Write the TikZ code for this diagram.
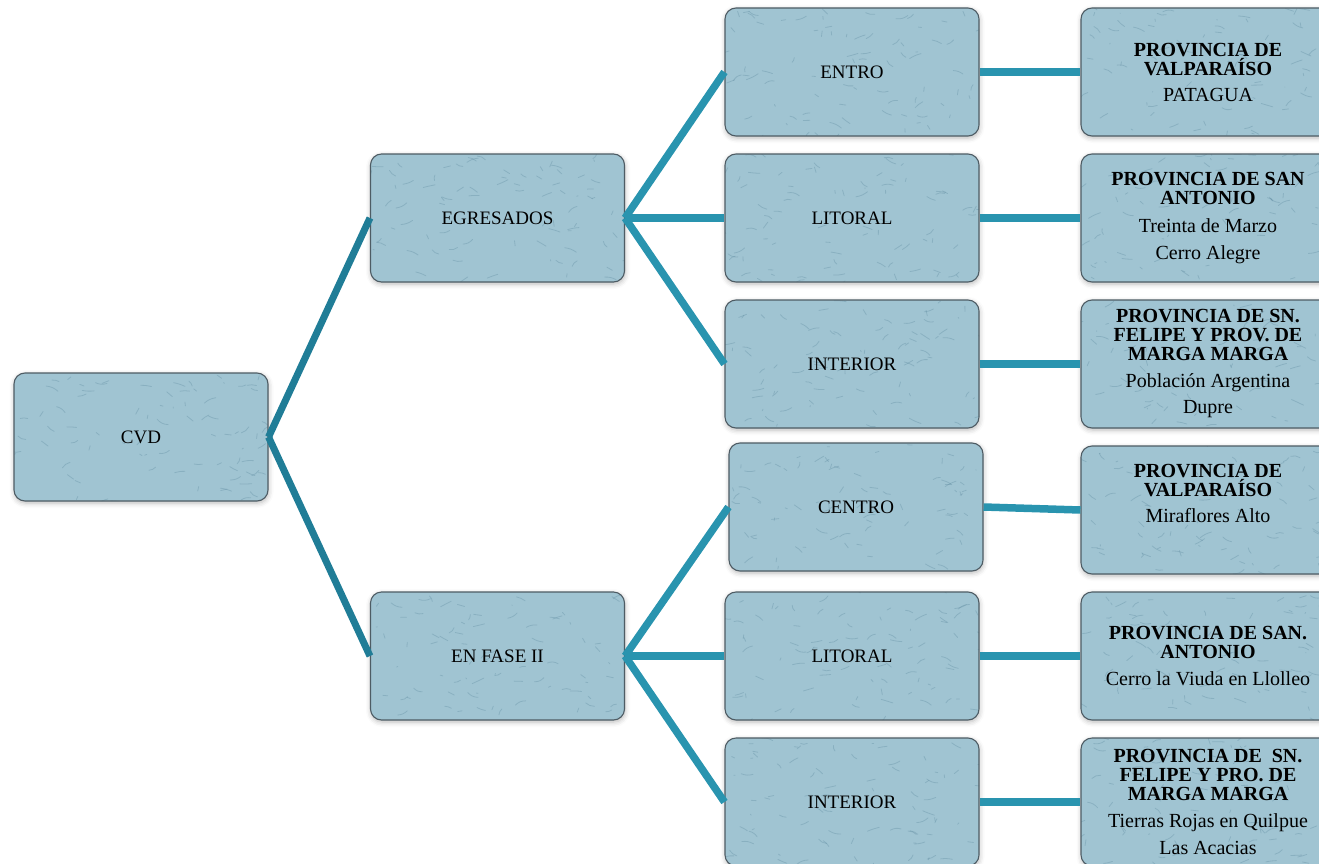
\documentclass[tikz,border=0pt]{standalone}
\usepackage{fontspec}
\setmainfont{Liberation Serif}
\usetikzlibrary{shadows.blur}

\definecolor{boxfill}{RGB}{160,196,210}
\definecolor{boxline}{RGB}{78,92,100}
\definecolor{grain}{RGB}{92,136,158}
\definecolor{linkdark}{RGB}{32,125,151}
\definecolor{linklight}{RGB}{41,148,175}

\tikzset{
  card/.style={
    rectangle, rounded corners=11pt, draw=boxline, line width=1.1pt,
    fill=boxfill, minimum width=254pt, minimum height=128pt,
    inner sep=0pt, align=center, text=black,
    font=\fontsize{19}{19}\selectfont,
    blur shadow={shadow xshift=0.5pt, shadow yshift=-2pt,
                 shadow blur radius=5pt, shadow opacity=28},
    path picture={
      \foreach \k in {1,...,80}{
        \pgfmathsetmacro{\px}{rnd*254}
        \pgfmathsetmacro{\py}{rnd*128}
        \pgfmathsetmacro{\dx}{rnd*24-12}
        \pgfmathsetmacro{\dy}{rnd*12-6}
        \pgfmathsetmacro{\bend}{rnd*50-25}
        \draw[grain, opacity=0.33, line width=0.8pt, line cap=round]
          ([shift={(\px pt,\py pt)}]path picture bounding box.south west)
          to[bend left=\bend] ++(\dx pt,\dy pt);
      }
    }
  },
  placecard/.style={card, font=\fontsize{20}{19}\selectfont},
  rootlink/.style={draw=linkdark, line width=7pt},
  leaflink/.style={draw=linklight, line width=7.5pt}
}

\begin{document}
\begin{tikzpicture}[x=1pt, y=-1pt]
\pgfmathsetseed{4711}
\useasboundingbox (0,0) rectangle (1319,864);
\begin{scope}
\clip (0,0) rectangle (1319,864);

% first and second levels
\node[card] (cvd)  at (141,437)   {CVD};
\node[card] (egr)  at (497.5,218) {EGRESADOS};
\node[card] (fase) at (497.5,656) {EN FASE II};

% third level
\node[card] (entro)  at (852,72)  {ENTRO};
\node[card] (lit1)   at (852,218) {LITORAL};
\node[card] (int1)   at (852,364) {INTERIOR};
\node[card] (centro) at (856,507) {CENTRO};
\node[card] (lit2)   at (852,656) {LITORAL};
\node[card] (int2)   at (852,802) {INTERIOR};

% provinces and places
\node[placecard] (r1) at (1208,72)
  {\textbf{PROVINCIA DE}\\\textbf{VALPARAÍSO}\\[7pt]PATAGUA};
\node[placecard] (r2) at (1208,218)
  {\textbf{PROVINCIA DE SAN}\\\textbf{ANTONIO}\\[9pt]Treinta de Marzo\\[8pt]Cerro Alegre};
\node[placecard] (r3) at (1208,364)
  {\textbf{PROVINCIA DE SN.}\\\textbf{FELIPE Y PROV. DE}\\\textbf{MARGA MARGA}\\[8pt]Población Argentina\\[7pt]Dupre};
\node[placecard] (r4) at (1208,510)
  {\textbf{PROVINCIA DE}\\\textbf{VALPARAÍSO}\\[7pt]Miraflores Alto\\[8pt]\strut};
\node[placecard] (r5) at (1208,656)
  {\textbf{PROVINCIA DE SAN.}\\\textbf{ANTONIO}\\[8pt]Cerro la Viuda en Llolleo};
\node[placecard] (r6) at (1208,802)
  {\textbf{PROVINCIA DE\ \ SN.}\\\textbf{FELIPE Y PRO. DE}\\\textbf{MARGA MARGA}\\[8pt]Tierras Rojas en Quilpue\\[8pt]Las Acacias};

% connectors
\draw[rootlink] (cvd.east) -- (egr.west);
\draw[rootlink] (cvd.east) -- (fase.west);

\draw[leaflink] (egr.east) -- (entro.west);
\draw[leaflink] (egr.east) -- (lit1.west);
\draw[leaflink] (egr.east) -- (int1.west);
\draw[leaflink] (fase.east) -- (centro.west);
\draw[leaflink] (fase.east) -- (lit2.west);
\draw[leaflink] (fase.east) -- (int2.west);

\draw[leaflink] (entro.east)  -- (r1.west);
\draw[leaflink] (lit1.east)   -- (r2.west);
\draw[leaflink] (int1.east)   -- (r3.west);
\draw[leaflink] (centro.east) -- (r4.west);
\draw[leaflink] (lit2.east)   -- (r5.west);
\draw[leaflink] (int2.east)   -- (r6.west);
\end{scope}
\end{tikzpicture}
\end{document}
